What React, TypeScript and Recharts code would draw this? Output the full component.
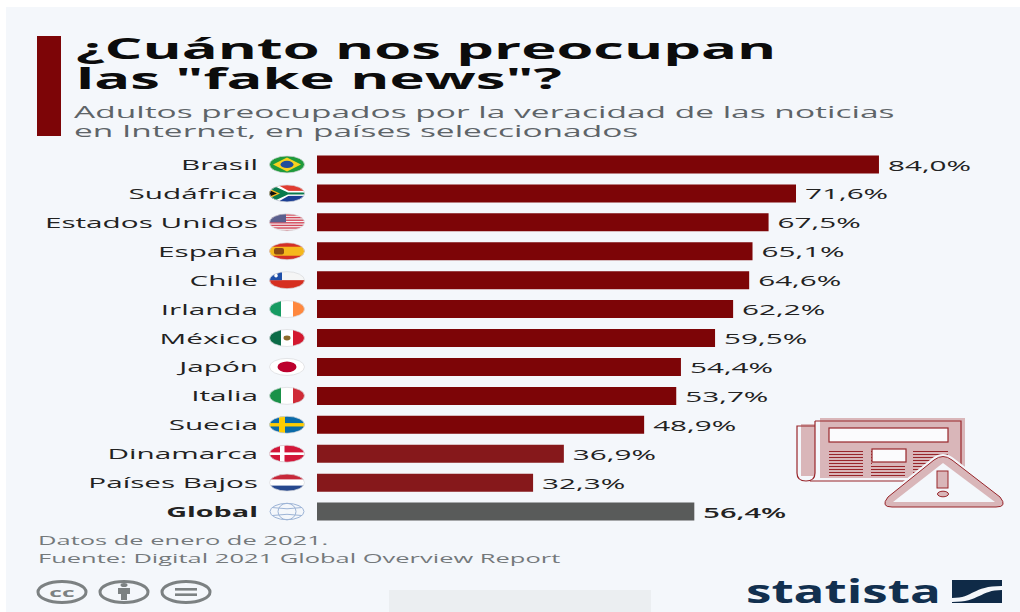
import React from "react";
import { Bar, BarChart, Cell, LabelList, XAxis, YAxis } from "recharts";

const countries = [
  "Brasil",
  "Sudáfrica",
  "Estados Unidos",
  "España",
  "Chile",
  "Irlanda",
  "México",
  "Japón",
  "Italia",
  "Suecia",
  "Dinamarca",
  "Países Bajos",
  "Global",
];
const shares = [84.0, 71.6, 67.5, 65.1, 64.6, 62.2, 59.5, 54.4, 53.7, 48.9, 36.9, 32.3, 56.4];
const titleLines = ["¿Cuánto nos preocupan", 'las "fake news"?'];
const subtitleLines = [
  "Adultos preocupados por la veracidad de las noticias",
  "en Internet, en países seleccionados",
];
const footerLines = ["Datos de enero de 2021.", "Fuente: Digital 2021 Global Overview Report"];

const rows = countries.map((country, i) => ({ country, share: shares[i] }));

const FONT = "'Open Sans', sans-serif";
const MAROON = "#7d0507";
const MAROON_LIGHT = "#86181b";
const GREY_BAR = "#595b5a";
const PANEL = "#f4f7fb";
const STRETCH = 1.98; // the whole picture is stretched sideways

function barColor(country: string) {
  if (country === "Global") return GREY_BAR;
  if (country === "Dinamarca" || country === "Países Bajos") return MAROON_LIGHT;
  return MAROON;
}

// Text pulled wide like the source image
function Wide({ x, y, size, color, weight = 400, anchor, sx = STRETCH, children }: any) {
  return (
    <g transform={`translate(${x},${y}) scale(${sx},1)`}>
      <text
        x={0}
        y={0}
        fontFamily={FONT}
        fontSize={size}
        fontWeight={weight}
        fill={color}
        textAnchor={anchor ?? "start"}
      >
        {children}
      </text>
    </g>
  );
}

function FlagShapes({ name }: { name: string }) {
  const box = (x: number, y: number, w: number, h: number, fill: string) => (
    <rect x={x} y={y} width={w} height={h} fill={fill} />
  );
  switch (name) {
    case "Brasil":
      return (
        <>
          {box(-18, -9, 36, 18, "#1f9a3c")}
          <polygon points="-14,0 0,-7 14,0 0,7" fill="#f6d21f" />
          <ellipse rx={6.5} ry={3.6} fill="#1f4e9c" />
        </>
      );
    case "Sudáfrica":
      return (
        <>
          {box(-18, -9, 36, 9, "#e03c31")}
          {box(-18, 0, 36, 9, "#1c3f94")}
          {box(-18, -2.5, 36, 5, "#fff")}
          <polygon points="-18,-9 -10,-9 3,-1.6 18,-1.6 18,1.6 3,1.6 -10,9 -18,9" fill="#fff" />
          <polygon points="-18,-7.5 -13,-7.5 1,-1 18,-1 18,1 1,1 -13,7.5 -18,7.5" fill="#0a7a4d" />
          <polygon points="-18,-5 -7,0 -18,5" fill="#f6b81f" />
          <polygon points="-18,-3.4 -10,0 -18,3.4" fill="#111" />
        </>
      );
    case "Estados Unidos":
      return (
        <>
          {box(-18, -9, 36, 18, "#f3f3f3")}
          {[-8, -5.4, -2.8, -0.2, 2.4, 5, 7.6].map((y) => (
            <React.Fragment key={y}>{box(-18, y, 36, 1.4, "#d4485a")}</React.Fragment>
          ))}
          {box(-18, -9, 17, 9, "#5a5f8e")}
        </>
      );
    case "España":
      return (
        <>
          {box(-18, -9, 36, 18, "#d32f27")}
          {box(-18, -4.5, 36, 9, "#f5b81c")}
          <rect x={-13} y={-3.2} width={10} height={6.4} rx={2} fill="#8a4a12" />
        </>
      );
    case "Chile":
      return (
        <>
          {box(-18, -9, 36, 9, "#f5f5f5")}
          {box(-18, 0, 36, 9, "#d62f20")}
          {box(-18, -9, 13, 9, "#1f4fa8")}
          <circle cx={-11} cy={-4.5} r={1.8} fill="#fff" />
        </>
      );
    case "Irlanda":
      return (
        <>
          {box(-18, -9, 12, 18, "#169b62")}
          {box(-6, -9, 12, 18, "#fff")}
          {box(6, -9, 12, 18, "#ff883e")}
        </>
      );
    case "México":
      return (
        <>
          {box(-18, -9, 12, 18, "#0b6b47")}
          {box(-6, -9, 12, 18, "#fff")}
          {box(6, -9, 12, 18, "#d3182f")}
          <ellipse rx={3.5} ry={2.4} fill="#8c6a2a" />
        </>
      );
    case "Japón":
      return (
        <>
          {box(-18, -9, 36, 18, "#fff")}
          <ellipse rx={9.5} ry={5.4} fill="#bc002d" />
        </>
      );
    case "Italia":
      return (
        <>
          {box(-18, -9, 12, 18, "#1a9148")}
          {box(-6, -9, 12, 18, "#fff")}
          {box(6, -9, 12, 18, "#cf2b37")}
        </>
      );
    case "Suecia":
      return (
        <>
          {box(-18, -9, 36, 18, "#0a6aa8")}
          {box(-18, -1.7, 36, 3.4, "#fecc02")}
          {box(-8, -9, 6, 18, "#fecc02")}
        </>
      );
    case "Dinamarca":
      return (
        <>
          {box(-18, -9, 36, 18, "#d3173a")}
          {box(-18, -1.3, 36, 2.6, "#fff")}
          {box(-7, -9, 4.5, 18, "#fff")}
        </>
      );
    case "Países Bajos":
      return (
        <>
          {box(-18, -9, 36, 6, "#c7283a")}
          {box(-18, -3, 36, 6, "#fff")}
          {box(-18, 3, 36, 6, "#27488e")}
        </>
      );
    default:
      return null;
  }
}

function Flag({ name, i }: { name: string; i: number }) {
  if (name === "Global") {
    return (
      <g fill="none" stroke="#9db4d6" strokeWidth={1}>
        <ellipse rx={17} ry={8.2} />
        <ellipse rx={9} ry={8.2} />
        <path d="M-15,-4 Q0,-1.5 15,-4 M-15,4 Q0,1.5 15,4" />
      </g>
    );
  }
  const id = `flag-${i}`;
  return (
    <g>
      <clipPath id={id}>
        <ellipse rx={17.5} ry={8.5} />
      </clipPath>
      <g clipPath={`url(#${id})`}>
        <FlagShapes name={name} />
      </g>
      <ellipse rx={17.5} ry={8.5} fill="none" stroke="#d8dadd" strokeWidth={0.7} />
    </g>
  );
}

function CountryTick({ x, y, payload, index }: any) {
  const name = payload.value as string;
  const isGlobal = name === "Global";
  return (
    <g>
      <Wide
        x={x - 59}
        y={y + 5.5}
        size={15}
        color="#222"
        weight={isGlobal ? 700 : 400}
        anchor="end"
        sx={isGlobal ? 1.92 : STRETCH}
      >
        {name}
      </Wide>
      <g transform={`translate(${x - 30},${y})`}>
        <Flag name={name} i={index} />
      </g>
    </g>
  );
}

function ValueLabel({ x, y, width, height, value, index }: any) {
  const isGlobal = countries[index] === "Global";
  return (
    <Wide
      x={x + width + 9}
      y={y + height / 2 + 6}
      size={15}
      color="#222"
      weight={isGlobal ? 600 : 400}
      sx={isGlobal ? 1.94 : STRETCH}
    >
      {value.toFixed(1).replace(".", ",") + "%"}
    </Wide>
  );
}

function CcIcons() {
  const c = "#7c8182";
  return (
    <g>
      <g fill="none" stroke={c} strokeWidth={3}>
        <ellipse cx={62} cy={592} rx={24} ry={10.5} />
        <ellipse cx={124} cy={592} rx={24} ry={10.5} />
        <ellipse cx={186} cy={592} rx={24} ry={10.5} />
      </g>
      <Wide x={62} y={596.5} size={13} color={c} weight={700} anchor="middle" sx={1.9}>
        cc
      </Wide>
      <ellipse cx={124} cy={585} rx={3.5} ry={2} fill={c} />
      <rect x={118} y={588} width={12} height={6} fill={c} />
      <rect x={121} y={594} width={6} height={6} fill={c} />
      <rect x={175} y={588} width={22} height={2.6} fill={c} />
      <rect x={175} y={593.4} width={22} height={2.6} fill={c} />
    </g>
  );
}

function Logo() {
  return (
    <g>
      <Wide x={746} y={603} size={33} color="#12304f" weight={700} sx={1.55}>
        statista
      </Wide>
      <rect x={952} y={580} width={50} height={23} fill="#0f2a47" />
      <path d="M952,598 C974,598 972,586 1002,586 L1002,590 C980,590 980,602 952,602 Z" fill={PANEL} />
    </g>
  );
}

function NewsIcon() {
  const line = "#98262b";
  const pink = "#d9b6b9";
  const cols = [
    [829, 34],
    [871, 34],
    [913, 35],
  ];
  const ys = [451, 454, 457, 460, 463, 466, 469, 472, 475];
  const triangle = "M934,460 Q943,453 952,460 L1000,497 Q1008,507 996,507 H892 Q880,507 888,497 Z";
  return (
    <g>
      <rect x={820} y={418} width={145} height={60} fill={pink} />
      <rect x={801} y={424} width={14} height={52} fill={pink} />
      <path d="M815,421 H961 V481 H810" fill="none" stroke={line} strokeWidth={1.2} />
      <path d="M815,426 H797 V473 Q797,481 806,481 Q815,481 815,473 V421" fill="none" stroke={line} strokeWidth={1.2} />
      <rect x={829} y={428} width={119} height={14} fill="#fbfbfd" stroke={line} strokeWidth={1.2} />
      {cols.map(([x, w]) =>
        ys.map((y) => <rect key={`${x}-${y}`} x={x} y={y} width={w} height={1} fill={line} />),
      )}
      <rect x={872} y={447} width={34} height={17} fill={pink} />
      <rect x={872} y={449} width={34} height={13} fill="#fbfbfd" stroke={line} strokeWidth={1.2} />
      <path d={triangle} fill={pink} stroke={PANEL} strokeWidth={5} strokeLinejoin="round" />
      <path d={triangle} fill={pink} stroke={line} strokeWidth={1} />
      <polygon points="943,463 995,502 893,502" fill={PANEL} />
      <rect x={937} y={471} width={11} height={17} fill={pink} stroke={line} strokeWidth={1} />
      <ellipse cx={943} cy={494} rx={5.5} ry={2.8} fill={pink} stroke={line} strokeWidth={1} />
    </g>
  );
}

function Backdrop() {
  return (
    <svg width={1020} height={612} style={{ position: "absolute", left: 0, top: 0 }}>
      <rect width={1020} height={612} fill="#fff" />
      <rect x={6} y={7} width={1014} height={605} fill={PANEL} />
      <rect x={389} y={590} width={262} height={22} fill="#ebeef1" />
      <rect x={37} y={36} width={24} height={100} fill={MAROON} />
      {titleLines.map((line, i) => (
        <Wide key={line} x={76} y={59 + i * 30} size={28} color="#0c0c0c" weight={700} sx={2.13}>
          {line}
        </Wide>
      ))}
      {subtitleLines.map((line, i) => (
        <Wide key={line} x={74} y={117.5 + i * 19.5} size={17} color="#5e6468" sx={1.97}>
          {line}
        </Wide>
      ))}
      {footerLines.map((line, i) => (
        <Wide key={line} x={38} y={545 + i * 17.5} size={13} color="#74797b" sx={1.96}>
          {line}
        </Wide>
      ))}
      <CcIcons />
      <Logo />
    </svg>
  );
}

export default function App() {
  return (
    <div style={{ position: "absolute", left: 0, top: 0, width: 1020, height: 612 }}>
      <Backdrop />
      <div style={{ position: "absolute", left: 0, top: 0 }}>
        <BarChart
          width={1020}
          height={612}
          layout="vertical"
          data={rows}
          barCategoryGap={5.5}
          margin={{ top: 150, right: 34, bottom: 86, left: 0 }}
        >
          <XAxis type="number" domain={[0, 100]} hide />
          <YAxis
            type="category"
            dataKey="country"
            width={317}
            interval={0}
            axisLine={false}
            tickLine={false}
            tickSize={0}
            tickMargin={0}
            tick={<CountryTick />}
          />
          <Bar dataKey="share" isAnimationActive={false}>
            {rows.map((r) => (
              <Cell key={r.country} fill={barColor(r.country)} />
            ))}
            <LabelList dataKey="share" content={<ValueLabel />} />
          </Bar>
        </BarChart>
      </div>
      <svg
        width={1020}
        height={612}
        style={{ position: "absolute", left: 0, top: 0, pointerEvents: "none" }}
      >
        <NewsIcon />
      </svg>
    </div>
  );
}
